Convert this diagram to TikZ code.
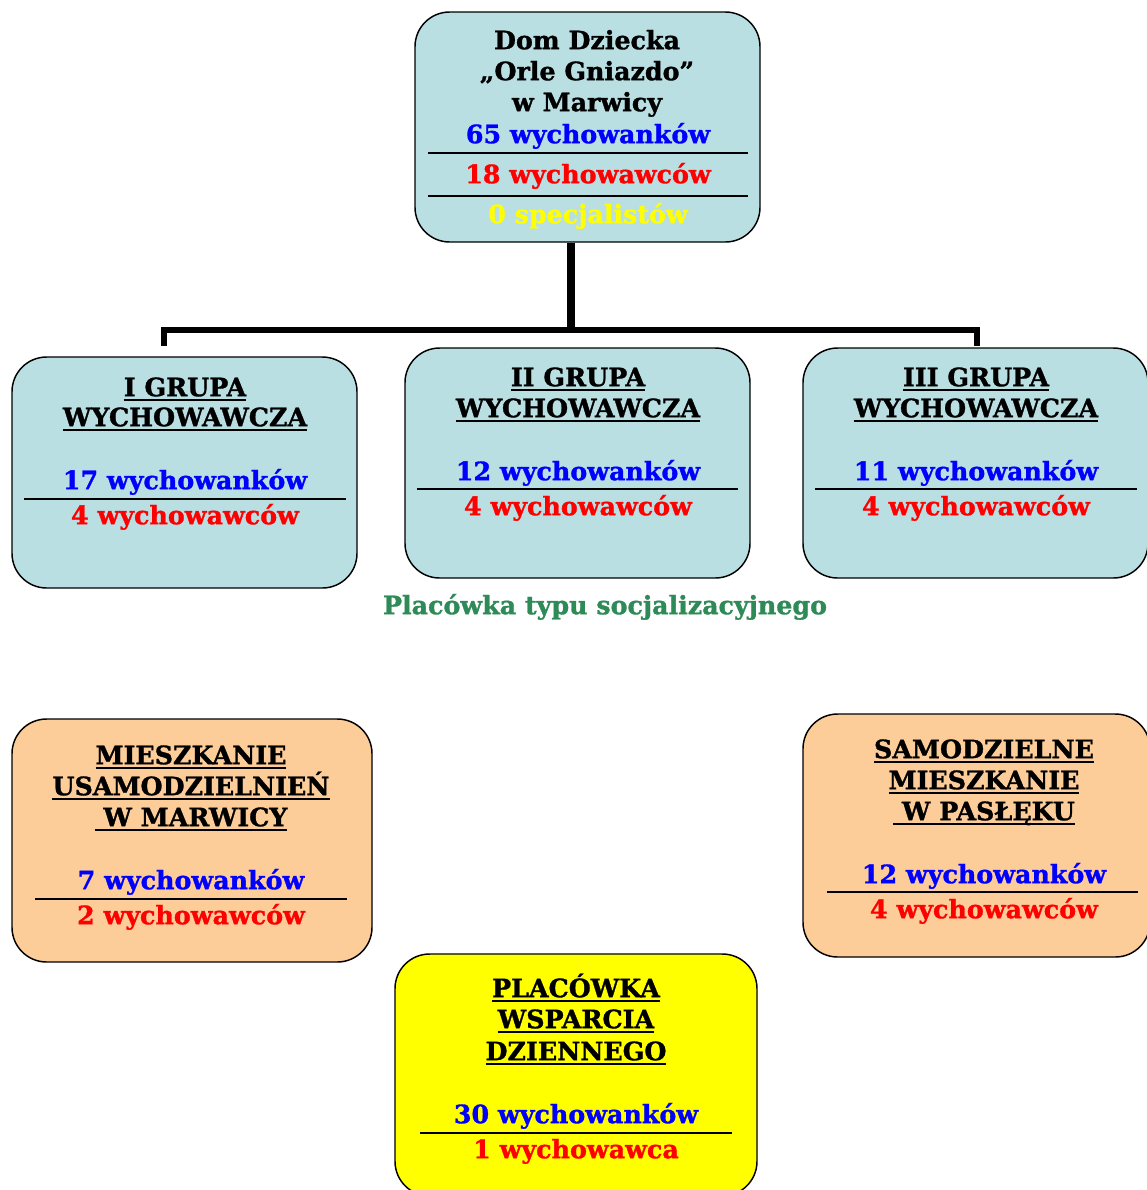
\documentclass[tikz,border=0pt]{standalone}
\usepackage{fontspec}
\setmainfont{DejaVu Serif}[BoldFeatures={FakeBold=1.2}]
\definecolor{boxblue}{RGB}{185,223,227}
\definecolor{boxorange}{RGB}{252,204,153}
\definecolor{txtgreen}{RGB}{46,139,87}
\definecolor{pureyellow}{RGB}{255,255,0}
\definecolor{pureblue}{RGB}{0,0,255}
\definecolor{purered}{RGB}{255,0,0}
\newcommand\myul[1]{\setbox0=\hbox{#1}\rlap{\rule[-3.8pt]{\wd0}{1.5pt}}\box0}
\tikzset{
  card/.style={draw=black, line width=1.1pt, rounded corners=26pt, inner sep=0pt},
  bluecard/.style={card, fill=boxblue},
  orangecard/.style={card, fill=boxorange},
  yellowcard/.style={card, fill=pureyellow},
  txt/.style={inner sep=0pt, font=\bfseries\fontsize{19}{22}\selectfont, text height=13.8pt, text depth=0pt, anchor=center},
  sep/.style={line width=1.3pt},
  trunk/.style={line width=6pt},
  branch/.style={line width=4pt},
}
\begin{document}
\begin{tikzpicture}[x=0.75pt,y=-0.75pt]
\useasboundingbox (0,0) rectangle (1147,1190);
% boxes
\node[bluecard, minimum width=258.75pt, minimum height=172.5pt] (top) at (587.5,127) {};
\node[bluecard, minimum width=258.75pt, minimum height=173.25pt] (g1) at (184.5,472.5) {};
\node[bluecard, minimum width=258.75pt, minimum height=172.5pt] (g2) at (577.5,463) {};
\node[bluecard, minimum width=258.75pt, minimum height=172.5pt] (g3) at (975.5,463) {};
\node[orangecard, minimum width=270pt, minimum height=182.25pt] (m) at (192,840.5) {};
\node[orangecard, minimum width=260.25pt, minimum height=182.25pt] (s) at (976.5,835.5) {};
\node[yellowcard, minimum width=271.5pt, minimum height=181.5pt] (p) at (576,1075) {};
% connectors
\coordinate (j) at (571,330);
\coordinate (hl) at (164,330);
\coordinate (hr) at (977,330);
\coordinate (sl) at (164,346);
\coordinate (sr) at (977,346);
\draw[trunk] (j |- top.south) -- ([yshift=-1.5pt]j);
\draw[branch] (sl) -- (hl) -- (hr) -- (sr);
% top texts
\node[txt] (t1) at (587,40) {Dom Dziecka};
\node[txt] (t2) at (587,71) {„Orle Gniazdo”};
\node[txt] (t3) at (587,102) {w Marwicy};
\node[txt, text=pureblue] (t4) at (588,134) {65 wychowanków};
\node[txt, text=purered] (t5) at (588,174) {18 wychowawców};
\node[txt, text=pureyellow] (t6) at (588,214) {0 specjalistów};
\coordinate (ta) at (428,153); \coordinate (tb) at (748,153);
\coordinate (tc) at (428,196); \coordinate (td) at (748,196);
\draw[sep] (ta) -- (tb);
\draw[sep] (tc) -- (td);
% group I
\node[txt] (a1) at (185,387) {\myul{I GRUPA}};
\node[txt] (a2) at (185,417) {\myul{WYCHOWAWCZA}};
\node[txt, text=pureblue] (a3) at (185,480) {17 wychowanków};
\node[txt, text=purered] (a4) at (185,515) {4 wychowawców};
\coordinate (aa) at (24,499); \coordinate (ab) at (346,499);
\draw[sep] (aa) -- (ab);
% group II
\node[txt] (b1) at (578,377) {\myul{II GRUPA}};
\node[txt] (b2) at (578,408) {\myul{WYCHOWAWCZA}};
\node[txt, text=pureblue] (b3) at (578,471) {12 wychowanków};
\node[txt, text=purered] (b4) at (578,506) {4 wychowawców};
\coordinate (ba) at (417,489); \coordinate (bb) at (738,489);
\draw[sep] (ba) -- (bb);
% group III
\node[txt] (c1) at (976,377) {\myul{III GRUPA}};
\node[txt] (c2) at (976,408) {\myul{WYCHOWAWCZA}};
\node[txt, text=pureblue] (c3) at (976,471) {11 wychowanków};
\node[txt, text=purered] (c4) at (976,506) {4 wychowawców};
\coordinate (ca) at (815,489); \coordinate (cb) at (1137,489);
\draw[sep] (ca) -- (cb);
% green label
\node[txt, text=txtgreen] (green) at (605,605) {Placówka typu socjalizacyjnego};
% mieszkanie
\node[txt] (m1) at (191,755) {\myul{MIESZKANIE}};
\node[txt] (m2) at (191,786) {\myul{USAMODZIELNIEŃ}};
\node[txt] (m3) at (191,817) {\myul{\ W MARWICY}};
\node[txt, text=pureblue] (m4) at (191,880) {7 wychowanków};
\node[txt, text=purered] (m5) at (191,915) {2 wychowawców};
\coordinate (ma) at (35,899); \coordinate (mb) at (347,899);
\draw[sep] (ma) -- (mb);
% samodzielne
\node[txt] (s1) at (984,749) {\myul{SAMODZIELNE}};
\node[txt] (s2) at (984,780) {\myul{MIESZKANIE}};
\node[txt] (s3) at (984,811) {\myul{\ W PASŁĘKU}};
\node[txt, text=pureblue] (s4) at (984,874) {12 wychowanków};
\node[txt, text=purered] (s5) at (984,909) {4 wychowawców};
\coordinate (sa) at (827,892); \coordinate (sb) at (1138,892);
\draw[sep] (sa) -- (sb);
% placowka
\node[txt] (p1) at (576,988) {\myul{PLACÓWKA}};
\node[txt] (p2) at (576,1019) {\myul{WSPARCIA}};
\node[txt] (p3) at (576,1051) {\myul{DZIENNEGO}};
\node[txt, text=pureblue] (p4) at (576,1114) {30 wychowanków};
\node[txt, text=purered] (p5) at (576,1149) {1 wychowawca};
\coordinate (pa) at (420,1133); \coordinate (pb) at (732,1133);
\draw[sep] (pa) -- (pb);
\end{tikzpicture}
\end{document}
